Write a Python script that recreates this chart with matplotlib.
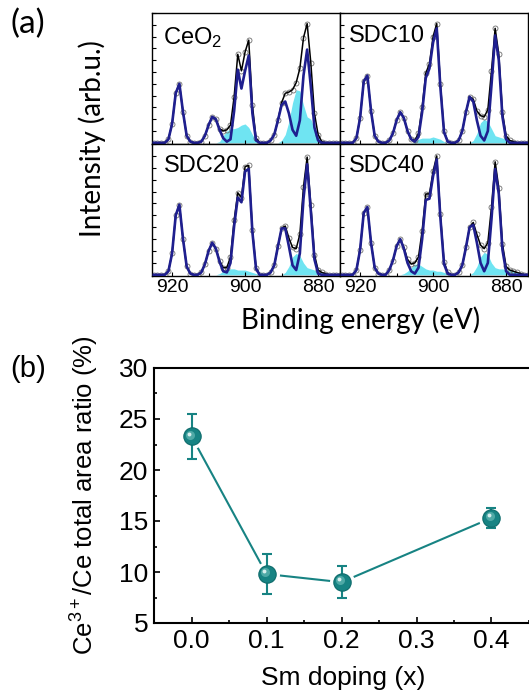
import numpy as np
import matplotlib
matplotlib.use("Agg")
import matplotlib.pyplot as plt
import matplotlib.transforms as mtransforms
from matplotlib.ticker import MultipleLocator

plt.rcParams["font.family"] = ["Liberation Sans", "DejaVu Sans"]
plt.rcParams["mathtext.fontset"] = "custom"
plt.rcParams["mathtext.rm"] = "Liberation Sans"
plt.rcParams["mathtext.it"] = "Liberation Sans:italic"

# ---- (a) Ce 3d XPS, normalised intensity sampled every 1 eV (925 -> 874 eV)
binding_energy = np.arange(925, 873, -1)

samples = ["CeO$_2$", "SDC10", "SDC20", "SDC40"]

ceo2_total = [0, 0, 0, 0, .03, .16, .42, .50, .26, .06,
              .01, 0, 0, .01, .06, .15, .22, .20, .12, .10,
              .11, .15, .39, .75, .61, .77, .87, .32, .04, 0,
              0, 0, .02, .07, .19, .34, .42, .43, .45, .51,
              .63, .89, 1.01, .68, .25, .07, .01, 0, 0, 0,
              0, 0]
ceo2_ce4 = [0, 0, 0, 0, .03, .16, .42, .50, .26, .06,
            .01, 0, 0, .01, .06, .15, .22, .20, .11, .04,
            .01, .03, .27, .62, .46, .61, .74, .25, .02, 0,
            0, 0, .02, .07, .19, .32, .35, .25, .11, .06,
            .19, .57, .79, .48, .13, .02, 0, 0, 0, 0,
            0, 0]
ceo2_ce3 = [0, 0, 0, 0, 0, 0, 0, 0, 0, 0,
            0, 0, 0, 0, 0, 0, 0, 0, .01, .06,
            .10, .12, .12, .13, .15, .16, .13, .07, .02, 0,
            0, 0, 0, 0, 0, .02, .07, .18, .34, .45,
            .44, .32, .22, .20, .12, .05, .01, 0, 0, 0,
            0, 0]

sdc10_total = [0, 0, 0, 0, .04, .21, .52, .57, .27, .06,
               .01, 0, 0, .02, .08, .19, .26, .21, .10, .03,
               .02, .08, .30, .59, .67, .90, 1.01, .50, .10, .01,
               0, 0, .02, .10, .26, .39, .37, .27, .23, .22,
               .28, .61, .97, .75, .26, .06, .02, .01, 0, 0,
               0, 0]
sdc10_ce4 = [0, 0, 0, 0, .04, .21, .52, .57, .27, .06,
             .01, 0, 0, .02, .08, .19, .26, .21, .10, .03,
             .01, .05, .26, .55, .63, .85, .97, .47, .09, .01,
             0, 0, .02, .10, .26, .39, .35, .19, .06, .02,
             .10, .49, .91, .70, .22, .03, 0, 0, 0, 0,
             0, 0]
sdc10_ce3 = [0, 0, 0, 0, 0, 0, 0, 0, 0, 0,
             0, 0, 0, 0, 0, 0, 0, 0, 0, 0,
             .01, .03, .04, .04, .04, .05, .04, .03, .01, 0,
             0, 0, 0, 0, 0, 0, .02, .08, .17, .20,
             .18, .12, .06, .05, .04, .03, .02, .01, 0, 0,
             0, 0]

sdc20_total = [0, 0, 0, 0, .03, .18, .50, .59, .30, .07,
               .01, 0, 0, .02, .09, .20, .27, .22, .12, .06,
               .06, .15, .46, .69, .65, .91, .92, .38, .06, 0,
               0, 0, .02, .08, .24, .39, .41, .31, .23, .22,
               .34, .74, .99, .59, .17, .04, .02, .01, 0, 0,
               0, 0]
sdc20_ce4 = [0, 0, 0, 0, .03, .18, .50, .59, .30, .07,
             .01, 0, 0, .02, .09, .20, .27, .22, .11, .03,
             .02, .10, .41, .65, .61, .87, .89, .36, .05, 0,
             0, 0, .02, .08, .24, .39, .39, .24, .08, .04,
             .18, .64, .93, .54, .13, .01, 0, 0, 0, 0,
             0, 0]
sdc20_ce3 = [0, 0, 0, 0, 0, 0, 0, 0, 0, 0,
             0, 0, 0, 0, 0, 0, 0, 0, .01, .03,
             .04, .05, .05, .04, .04, .04, .03, .02, .01, 0,
             0, 0, 0, 0, 0, 0, .02, .07, .15, .18,
             .16, .10, .06, .05, .04, .03, .02, .01, 0, 0,
             0, 0]

sdc40_total = [0, 0, 0, 0, .04, .21, .52, .57, .27, .06,
               .01, 0, 0, .04, .12, .24, .30, .23, .13, .09,
               .10, .15, .37, .68, .68, .87, 1.00, .51, .11, .02,
               0, 0, .02, .08, .23, .40, .44, .34, .25, .22,
               .27, .57, .95, .73, .26, .07, .04, .03, .02, .01,
               0, 0]
sdc40_ce4 = [0, 0, 0, 0, .04, .21, .52, .57, .27, .06,
             .01, 0, 0, .04, .12, .24, .30, .22, .10, .03,
             .01, .06, .30, .63, .64, .83, .97, .48, .09, .01,
             0, 0, .02, .08, .23, .40, .42, .27, .10, .03,
             .10, .47, .89, .68, .21, .03, 0, 0, 0, 0,
             0, 0]
sdc40_ce3 = [0, 0, 0, 0, 0, 0, 0, 0, 0, 0,
             0, 0, 0, 0, 0, 0, 0, .01, .03, .06,
             .09, .09, .07, .05, .04, .04, .03, .03, .02, .01,
             0, 0, 0, 0, 0, 0, .02, .07, .15, .19,
             .17, .10, .06, .05, .05, .04, .04, .03, .02, .01,
             0, 0]

spectra = [
    (ceo2_total, ceo2_ce4, ceo2_ce3),
    (sdc10_total, sdc10_ce4, sdc10_ce3),
    (sdc20_total, sdc20_ce4, sdc20_ce3),
    (sdc40_total, sdc40_ce4, sdc40_ce3),
]
be_ticks = [920, 900, 880]

# ---- (b) Ce3+ fraction vs Sm content
sm_doping = [0.0, 0.1, 0.2, 0.4]
ce3_ratio = [23.3, 9.8, 9.0, 15.3]
ce3_err = [2.2, 2.0, 1.55, 1.0]

W, H = 529, 700
fig = plt.figure(figsize=(W / 100, H / 100), dpi=100)


def px_box(x0, y0, x1, y1):
    # pixel box (top-left origin) -> figure fraction rect
    return [x0 / W, 1 - y1 / H, (x1 - x0) / W, (y1 - y0) / H]


cyan = "#6fe4f2"
navy = "#1f1f8f"
cols = [(152, 340), (340, 528)]
rows = [(13, 144), (144, 276)]
label_off = [(11, -12), (9, -12), (12, -11), (9, -11)]

for k, (name, (tot, ce4, ce3)) in enumerate(zip(samples, spectra)):
    r, c = divmod(k, 2)
    ax = fig.add_axes(px_box(cols[c][0], rows[r][0], cols[c][1], rows[r][1]))
    ax.fill_between(binding_energy, ce3, 0, color=cyan, lw=0, zorder=1)
    ax.plot(binding_energy, tot, "o", ms=3.6, mfc="none", mec="#707070",
            mew=0.6, zorder=2)
    ax.plot(binding_energy, tot, color="black", lw=1.1, zorder=3)
    ax.plot(binding_energy, ce4, color=navy, lw=1.9, zorder=4)
    ax.set_xlim(925.5, 874)
    ax.set_ylim(-0.01, 1.1)
    ax.xaxis.set_minor_locator(MultipleLocator(10))
    ax.yaxis.set_major_locator(MultipleLocator(0.1))
    ax.set_xticks(be_ticks)
    ax.tick_params(which="both", direction="in", length=3, width=0.8,
                   labelsize=14, pad=2.5, labelleft=False,
                   labelbottom=(r == 1))
    ax.tick_params(which="minor", length=2)
    for sp in ax.spines.values():
        sp.set_linewidth(1.0)
    ax.annotate(name, xy=(0, 1), xycoords="axes fraction",
                xytext=label_off[k], textcoords="offset pixels",
                fontsize=17, ha="left", va="top")

fig.text(92 / W, 1 - 139 / H, "Intensity (arb.u.)", family="Lato",
         fontsize=20, rotation=90, ha="center", va="center")
fig.text(361 / W, 1 - 320 / H, "Binding energy (eV)", family="Lato",
         fontsize=20, ha="center", va="center")
fig.text(28 / W, 1 - 24 / H, "(a)", family="Lato", fontsize=24,
         ha="center", va="center")
fig.text(28 / W, 1 - 369 / H, "(b)", fontsize=21, ha="center", va="center")

# ---- panel (b)
teal = "#178383"
bx = fig.add_axes(px_box(154, 368, 154 + 0.52 * 750, 623))
bx.set_xlim(-0.05, 0.47)
bx.set_ylim(5, 30)
bx.plot(sm_doping, ce3_ratio, color=teal, lw=1.5, zorder=2)
bx.plot(sm_doping, ce3_ratio, "o", ms=17, color="white", zorder=3)
bx.errorbar(sm_doping, ce3_ratio, yerr=ce3_err, fmt="none", ecolor=teal,
            elinewidth=1.5, capsize=3.5, capthick=1.5, zorder=4)
bx.plot(sm_doping, ce3_ratio, "o", ms=12.5, color=teal, mec="#0d6b6b",
        mew=0.8, zorder=5)
hl = mtransforms.offset_copy(bx.transData, fig=fig, x=-1.3, y=1.3, units="points")
bx.plot(sm_doping, ce3_ratio, "o", ms=6.5, color="#4ea9a6", mec="none",
        transform=hl, zorder=6)
hl2 = mtransforms.offset_copy(bx.transData, fig=fig, x=-2.0, y=2.0, units="points")
bx.plot(sm_doping, ce3_ratio, "o", ms=2.8, color="#d8efee", mec="none",
        transform=hl2, zorder=7)

bx.xaxis.set_major_locator(MultipleLocator(0.1))
bx.xaxis.set_minor_locator(MultipleLocator(0.05))
bx.yaxis.set_major_locator(MultipleLocator(5))
bx.yaxis.set_minor_locator(MultipleLocator(2.5))
bx.xaxis.set_major_formatter(plt.FormatStrFormatter("%.1f"))
bx.tick_params(which="both", direction="in", width=1.2, labelsize=19, pad=4)
bx.tick_params(which="major", length=4.5)
bx.tick_params(which="minor", length=2.5)
bx.spines["right"].set_visible(False)
for sp in ("left", "bottom", "top"):
    bx.spines[sp].set_linewidth(1.5)
bx.set_xlabel("Sm doping (x)", fontsize=19)
bx.set_ylabel(r"Ce$^{\mathregular{3+}}$/Ce total area ratio (%)", fontsize=18.5)
bx.xaxis.set_label_coords(343 / W, 1 - 678 / H, transform=fig.transFigure)
bx.xaxis.label.set_va("center")
bx.yaxis.set_label_coords(85 / W, 1 - 495 / H, transform=fig.transFigure)
bx.yaxis.label.set_va("center")

fig.savefig("out.png", dpi=100)
